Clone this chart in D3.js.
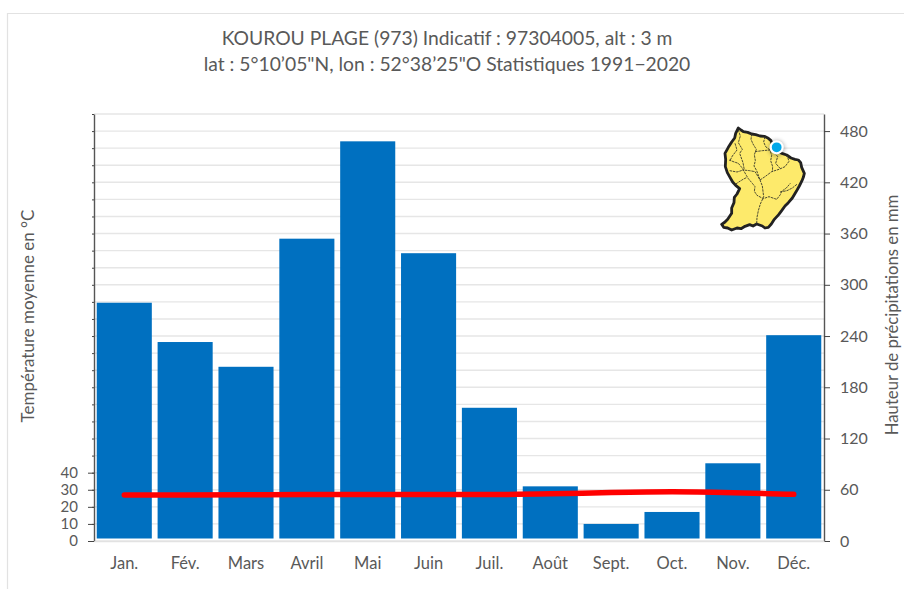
<!DOCTYPE html>
<html>
<head>
<meta charset="utf-8">
<script src="https://cdn.jsdelivr.net/npm/d3@7"></script>
<style>
    body { margin: 0; background: #fff; }
    svg { display: block; }
    text { font-family: Lato, sans-serif; fill: #595959; }
</style>
</head>
<body>
<svg id="chart" width="904" height="589">
    <defs>
        <filter id="soft" x="-60%" y="-60%" width="220%" height="220%">
            <feGaussianBlur stdDeviation="2"></feGaussianBlur>
        </filter>
    </defs>
</svg>
<script>
const months = ['Jan.', 'Fév.', 'Mars', 'Avril', 'Mai', 'Juin', 'Juil.', 'Août', 'Sept.', 'Oct.', 'Nov.', 'Déc.'];
const rainfall = [279, 233, 204, 354, 468, 337, 156, 64, 20, 34, 91, 241];
const temperature = [27.0, 27.0, 27.1, 27.2, 27.2, 27.2, 27.2, 27.6, 28.4, 28.8, 28.3, 27.3];

const titleLines = [
    'KOUROU PLAGE (973) Indicatif : 97304005, alt : 3 m',
    'lat : 5°10’05"N, lon : 52°38’25"O Statistiques 1991−2020',
];
const tempLabelTicks = [0, 10, 20, 30, 40];
const tempGridTicks = d3.range(0, 251, 10);
const rainTicks = [0, 60, 120, 180, 240, 300, 360, 420, 480];

// inset map of French Guiana, traced in its own 285 x 345 space
const mapOutline = [
    [70, 24], [78, 30], [85, 35], [98, 37], [110, 42], [122, 44], [135, 48], [148, 49], [160, 55],
    [168, 62], [172, 72], [182, 86], [190, 95], [203, 101], [215, 105], [228, 114], [240, 118],
    [250, 120], [257, 128], [260, 142], [268, 160], [265, 172], [261, 182], [253, 198], [244, 214],
    [232, 234], [220, 248], [210, 258], [200, 272], [191, 284], [178, 298], [169, 312], [160, 322],
    [150, 324], [142, 318], [125, 312], [114, 318], [104, 314], [90, 319], [78, 326], [66, 324],
    [50, 330], [38, 324], [26, 322], [20, 313], [30, 306], [38, 298], [50, 280], [50, 264], [57, 248],
    [58, 232], [66, 222], [74, 206], [62, 196], [53, 186], [45, 172], [37, 158], [31, 140], [32, 118],
    [30, 100], [40, 82], [50, 66], [59, 54], [62, 40],
];
const mapRivers = [
    [[110, 42], [108, 58], [114, 72], [124, 88], [118, 104], [121, 122], [117, 138], [125, 152], [135, 180]],
    [[70, 30], [76, 48], [70, 68], [82, 88], [74, 100], [84, 128], [88, 150]],
    [[60, 70], [66, 90], [52, 108], [46, 120]],
    [[42, 120], [58, 126], [70, 130], [80, 142], [85, 150], [104, 152], [120, 155], [128, 168], [135, 180], [142, 198], [146, 230], [136, 252], [130, 272], [126, 292], [125, 312]],
    [[44, 152], [66, 156], [85, 150], [94, 166], [100, 176], [112, 190], [120, 200], [118, 214], [126, 226], [145, 236], [162, 230], [185, 238], [196, 224], [200, 214], [214, 204], [226, 190]],
    [[135, 180], [150, 170], [170, 155], [192, 148], [210, 140], [222, 124], [216, 106]],
    [[120, 95], [142, 92], [165, 90], [170, 106], [167, 122], [173, 140], [172, 155]],
    [[150, 50], [146, 66], [152, 80], [165, 90]],
    [[195, 216], [216, 212], [232, 204], [247, 192]],
    [[172, 90], [188, 110], [182, 130], [196, 146]],
    [[62, 192], [84, 178], [96, 172]],
];
const stationPoint = [185, 82];

const svg = d3.select('#chart');
const plotLeft = 94, plotRight = 824, plotTop = 114, plotBottom = 541;

const x = d3.scaleBand().domain(months).range([plotLeft, plotRight]).paddingInner(0.095).paddingOuter(0.045);
const yRain = d3.scaleLinear().domain([0, 500]).range([plotBottom, plotTop]);
const yTemp = d3.scaleLinear().domain([0, 250]).range([plotBottom, plotTop]);

// page frame
svg.append('path')
    .attr('d', 'M7.5,589V13.5H904')
    .attr('fill', 'none')
    .attr('stroke', '#e2e2e2')
    .attr('stroke-width', 1.2);

// grid
svg.append('g')
    .selectAll('line')
    .data(tempGridTicks)
    .join('line')
    .attr('x1', plotLeft)
    .attr('x2', plotRight)
    .attr('y1', (d) => yTemp(d))
    .attr('y2', (d) => yTemp(d))
    .attr('stroke', '#e6e6e6')
    .attr('stroke-width', 1.4);

// bars
svg.append('g')
    .selectAll('rect')
    .data(rainfall)
    .join('rect')
    .attr('x', (d, i) => x(months[i]))
    .attr('width', x.bandwidth())
    .attr('y', (d) => yRain(d))
    .attr('height', (d) => yRain(0) - yRain(d) - 2.5)
    .attr('fill', '#0070c0');

// temperature line
const line = d3
    .line()
    .x((d, i) => x(months[i]) + x.bandwidth() / 2)
    .y((d) => yTemp(d))
    .curve(d3.curveMonotoneX);

svg.append('path')
    .datum(temperature)
    .attr('d', line)
    .attr('fill', 'none')
    .attr('stroke', '#ff0000')
    .attr('stroke-width', 5.5)
    .attr('stroke-linecap', 'round');

// axes
function styleAxis(g, size) {
    g.selectAll('.domain').attr('stroke', '#555').attr('stroke-width', 1.4);
    g.selectAll('.tick line').attr('stroke', '#444');
    g.selectAll('.tick text').style('font-size', size + 'px').attr('fill', '#595959');
}

const minorAxis = svg
    .append('g')
    .attr('transform', `translate(${plotLeft},0)`)
    .call(d3.axisLeft(yTemp).tickValues(tempGridTicks).tickSize(2).tickSizeOuter(0).tickFormat(''));
styleAxis(minorAxis, 15);

const tempAxis = svg
    .append('g')
    .attr('transform', `translate(${plotLeft},0)`)
    .call(d3.axisLeft(yTemp).tickValues(tempLabelTicks).tickSize(6).tickSizeOuter(0).tickPadding(10));
styleAxis(tempAxis, 15);
tempAxis.select('.domain').remove();

const rainAxis = svg
    .append('g')
    .attr('transform', `translate(${plotRight},0)`)
    .call(d3.axisRight(yRain).tickValues(rainTicks).tickSize(6).tickSizeOuter(0).tickPadding(10));
styleAxis(rainAxis, 16);

const monthAxis = svg
    .append('g')
    .attr('transform', `translate(0,${plotBottom})`)
    .call(d3.axisBottom(x).tickSize(0).tickPadding(16));
monthAxis.select('.domain').attr('stroke', '#e2e2e2').attr('stroke-width', 1.4);
monthAxis.selectAll('.tick text').style('font-size', '16.5px').attr('fill', '#595959');

// titles
svg.append('g')
    .selectAll('text')
    .data(titleLines)
    .join('text')
    .attr('x', 447)
    .attr('y', (d, i) => 45 + i * 26)
    .attr('text-anchor', 'middle')
    .style('font-size', '19.3px')
    .text((d) => d);

svg.append('text')
    .attr('transform', 'translate(34,316) rotate(-90)')
    .attr('text-anchor', 'middle')
    .style('font-size', '17px')
    .text('Température moyenne en °C');

svg.append('text')
    .attr('transform', 'translate(898,315) rotate(-90)')
    .attr('text-anchor', 'middle')
    .style('font-size', '16.7px')
    .text('Hauteur de précipitations en mm');

// inset map
const mapX = d3.scaleLinear().domain([0, 285]).range([715, 810]);
const mapY = d3.scaleLinear().domain([0, 345]).range([120, 235]);
const mapLine = d3.line().x((d) => mapX(d[0])).y((d) => mapY(d[1]));

const map = svg.append('g');
map.append('path')
    .attr('d', mapLine.curve(d3.curveLinearClosed)(mapOutline))
    .attr('fill', '#fdea6b')
    .attr('stroke', '#222')
    .attr('stroke-width', 2.8)
    .attr('stroke-linejoin', 'round');
mapLine.curve(d3.curveLinear);
map.append('g')
    .selectAll('path')
    .data(mapRivers)
    .join('path')
    .attr('d', mapLine)
    .attr('fill', 'none')
    .attr('stroke', '#3a3a2a')
    .attr('stroke-width', 0.9)
    .attr('stroke-dasharray', '2.5 0.8');

map.append('circle')
    .attr('cx', mapX(stationPoint[0]))
    .attr('cy', mapY(stationPoint[1]) + 1)
    .attr('r', 8)
    .attr('fill', '#000')
    .attr('opacity', 0.3)
    .attr('filter', 'url(#soft)');
map.append('circle')
    .attr('cx', mapX(stationPoint[0]))
    .attr('cy', mapY(stationPoint[1]))
    .attr('r', 6)
    .attr('fill', '#00a7e8')
    .attr('stroke', '#fff')
    .attr('stroke-width', 2.2);
</script>
</body>
</html>
